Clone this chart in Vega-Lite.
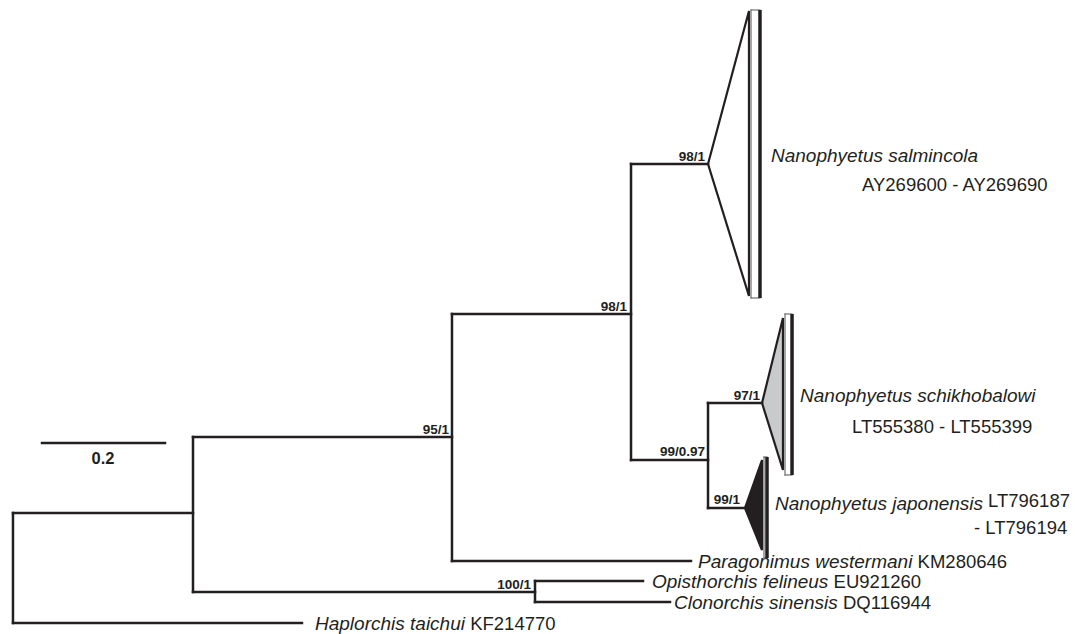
{
  "$schema": "https://vega.github.io/schema/vega-lite/v6.json",
  "width": 1075,
  "height": 634,
  "padding": 0,
  "autosize": {"type": "fit", "contains": "padding"},
  "background": "white",
  "config": {"view": {"stroke": null}},
  "datasets": {
    "segments": [
      {"kind": "branch", "x": 0, "x2": 0.2927, "y": 513, "y2": 513},
      {"kind": "branch", "x": 0, "x2": 0.4699, "y": 623, "y2": 623},
      {"kind": "branch", "x": 0.2927, "x2": 0.7138, "y": 437, "y2": 437},
      {"kind": "branch", "x": 0.2927, "x2": 0.8488, "y": 592, "y2": 592},
      {"kind": "branch", "x": 0.8488, "x2": 1.0244, "y": 581, "y2": 581},
      {"kind": "branch", "x": 0.8488, "x2": 1.0683, "y": 602, "y2": 602},
      {"kind": "branch", "x": 0.7138, "x2": 1.1024, "y": 561, "y2": 561},
      {"kind": "branch", "x": 0.7138, "x2": 1.0049, "y": 314, "y2": 314},
      {"kind": "branch", "x": 1.0049, "x2": 1.1301, "y": 164, "y2": 164},
      {"kind": "branch", "x": 1.0049, "x2": 1.1301, "y": 460, "y2": 460},
      {"kind": "branch", "x": 1.1301, "x2": 1.2179, "y": 403, "y2": 403},
      {"kind": "branch", "x": 1.1301, "x2": 1.1902, "y": 508, "y2": 508},
      {"kind": "branch", "x": 0, "x2": 0, "y": 513, "y2": 623},
      {"kind": "branch", "x": 0.2927, "x2": 0.2927, "y": 437, "y2": 592},
      {"kind": "branch", "x": 0.7138, "x2": 0.7138, "y": 314, "y2": 561},
      {"kind": "branch", "x": 0.8488, "x2": 0.8488, "y": 581, "y2": 602},
      {"kind": "branch", "x": 1.0049, "x2": 1.0049, "y": 164, "y2": 460},
      {"kind": "branch", "x": 1.1301, "x2": 1.1301, "y": 403, "y2": 508},
      {"kind": "scale", "x": 0.0472, "x2": 0.2472, "y": 443, "y2": 443},
      {"kind": "frame", "x": 1.2000, "x2": 1.2000, "y": 10, "y2": 298},
      {"kind": "frame", "x": 1.2000, "x2": 1.2146, "y": 10, "y2": 10},
      {"kind": "frame", "x": 1.2000, "x2": 1.2146, "y": 298, "y2": 298},
      {"kind": "bar", "x": 1.2146, "x2": 1.2146, "y": 10, "y2": 298},
      {"kind": "frame", "x": 1.2553, "x2": 1.2553, "y": 314, "y2": 475},
      {"kind": "frame", "x": 1.2553, "x2": 1.2667, "y": 314, "y2": 314},
      {"kind": "frame", "x": 1.2553, "x2": 1.2667, "y": 475, "y2": 475},
      {"kind": "bar", "x": 1.2667, "x2": 1.2667, "y": 314, "y2": 475},
      {"kind": "frame", "x": 1.2211, "x2": 1.2211, "y": 457, "y2": 558},
      {"kind": "frame", "x": 1.2211, "x2": 1.2260, "y": 457, "y2": 457},
      {"kind": "frame", "x": 1.2211, "x2": 1.2260, "y": 558, "y2": 558},
      {"kind": "bar", "x": 1.2260, "x2": 1.2260, "y": 457, "y2": 558}
    ],
    "clades": [
      {"clade": "salmincola", "x": 1.1301, "y": 164, "y2": 164},
      {"clade": "salmincola", "x": 1.1967, "y": 11, "y2": 296},
      {"clade": "schikhobalowi", "x": 1.2179, "y": 403, "y2": 403},
      {"clade": "schikhobalowi", "x": 1.2520, "y": 318, "y2": 470},
      {"clade": "japonensis", "x": 1.1902, "y": 508, "y2": 508},
      {"clade": "japonensis", "x": 1.2179, "y": 460, "y2": 550}
    ],
    "labels": [
      {"kind": "taxon", "label": "Nanophyetus salmincola", "x": 1.2325, "y": 162},
      {"kind": "acc", "label": "AY269600 - AY269690", "x": 1.3805, "y": 191},
      {"kind": "taxon", "label": "Nanophyetus schikhobalowi", "x": 1.2797, "y": 402},
      {"kind": "acc", "label": "LT555380 - LT555399", "x": 1.3642, "y": 433},
      {"kind": "taxon", "label": "Nanophyetus japonensis", "x": 1.2390, "y": 510},
      {"kind": "acc", "label": "LT796187", "x": 1.5854, "y": 507},
      {"kind": "acc", "label": "- LT796194", "x": 1.5626, "y": 534},
      {"kind": "taxon", "label": "Paragonimus westermani", "x": 1.1138, "y": 568},
      {"kind": "acc", "label": "KM280646", "x": 1.4709, "y": 568},
      {"kind": "taxon", "label": "Opisthorchis felineus", "x": 1.0390, "y": 588},
      {"kind": "acc", "label": "EU921260", "x": 1.3343, "y": 588},
      {"kind": "taxon", "label": "Clonorchis sinensis", "x": 1.0748, "y": 609},
      {"kind": "acc", "label": "DQ116944", "x": 1.3496, "y": 609},
      {"kind": "taxon", "label": "Haplorchis taichui", "x": 0.4911, "y": 630},
      {"kind": "acc", "label": "KF214770", "x": 0.7434, "y": 630},
      {"kind": "support", "label": "98/1", "x": 1.1252, "y": 161},
      {"kind": "support", "label": "98/1", "x": 0.9984, "y": 311},
      {"kind": "support", "label": "95/1", "x": 0.7089, "y": 434},
      {"kind": "support", "label": "99/0.97", "x": 1.1252, "y": 456},
      {"kind": "support", "label": "97/1", "x": 1.2146, "y": 400},
      {"kind": "support", "label": "99/1", "x": 1.1821, "y": 504},
      {"kind": "support", "label": "100/1", "x": 0.8423, "y": 589},
      {"kind": "scalelabel", "label": "0.2", "x": 0.1463, "y": 464}
    ]
  },
  "encoding": {
    "x": {"field": "x", "type": "quantitative", "axis": null, "scale": {"domain": [-0.0211, 1.7268], "nice": false, "zero": false}},
    "y": {"field": "y", "type": "quantitative", "axis": null, "scale": {"domain": [0, 634], "nice": false, "zero": false, "reverse": true}}
  },
  "layer": [
    {
      "data": {"name": "clades"},
      "mark": {"type": "area", "stroke": "#231f20", "strokeWidth": 2.2, "strokeJoin": "miter", "opacity": 1},
      "encoding": {
        "y2": {"field": "y2"},
        "fill": {"field": "clade", "type": "nominal", "legend": null,
          "scale": {"domain": ["salmincola", "schikhobalowi", "japonensis"], "range": ["#ffffff", "#c9cacc", "#231f20"]}}
      }
    },
    {
      "data": {"name": "segments"},
      "transform": [{"filter": "datum.kind === 'branch' || datum.kind === 'scale'"}],
      "mark": {"type": "rule", "color": "#231f20", "strokeWidth": 2.5, "strokeCap": "square"},
      "encoding": {"x2": {"field": "x2"}, "y2": {"field": "y2"}}
    },
    {
      "data": {"name": "segments"},
      "transform": [{"filter": "datum.kind === 'frame'"}],
      "mark": {"type": "rule", "color": "#6d6e70", "strokeWidth": 1.2, "strokeCap": "square"},
      "encoding": {"x2": {"field": "x2"}, "y2": {"field": "y2"}}
    },
    {
      "data": {"name": "segments"},
      "transform": [{"filter": "datum.kind === 'bar'"}],
      "mark": {"type": "rule", "color": "#231f20", "strokeWidth": 3.5, "strokeCap": "butt"},
      "encoding": {"x2": {"field": "x2"}, "y2": {"field": "y2"}}
    },
    {
      "data": {"name": "labels"},
      "transform": [{"filter": "datum.kind === 'taxon'"}],
      "mark": {"type": "text", "font": "Liberation Sans", "fontStyle": "italic", "fontSize": 19, "align": "left", "baseline": "alphabetic", "color": "#231f20"},
      "encoding": {"text": {"field": "label"}}
    },
    {
      "data": {"name": "labels"},
      "transform": [{"filter": "datum.kind === 'acc'"}],
      "mark": {"type": "text", "font": "Liberation Sans", "fontSize": 18.5, "align": "left", "baseline": "alphabetic", "color": "#231f20"},
      "encoding": {"text": {"field": "label"}}
    },
    {
      "data": {"name": "labels"},
      "transform": [{"filter": "datum.kind === 'support'"}],
      "mark": {"type": "text", "font": "Liberation Sans", "fontWeight": "bold", "fontSize": 13.5, "align": "right", "baseline": "alphabetic", "color": "#231f20"},
      "encoding": {"text": {"field": "label"}}
    },
    {
      "data": {"name": "labels"},
      "transform": [{"filter": "datum.kind === 'scalelabel'"}],
      "mark": {"type": "text", "font": "Liberation Sans", "fontWeight": "bold", "fontSize": 16.5, "align": "center", "baseline": "alphabetic", "color": "#231f20"},
      "encoding": {"text": {"field": "label"}}
    }
  ]
}
